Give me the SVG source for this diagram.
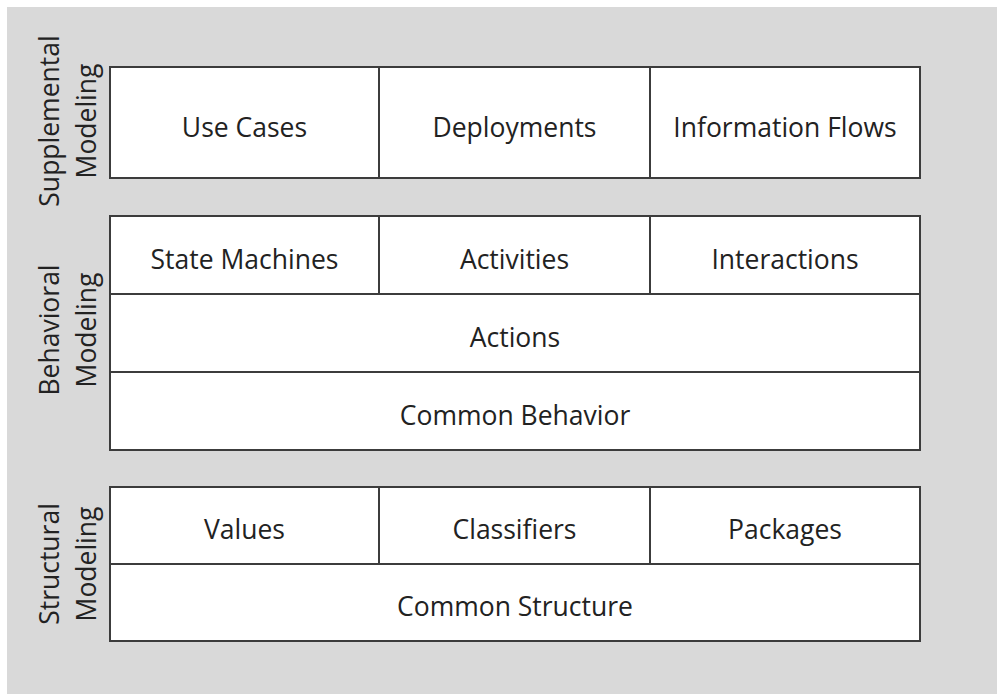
<svg xmlns="http://www.w3.org/2000/svg" width="997" height="694" viewBox="0 0 997 694">
<style>
.box{fill:#fff;stroke:#3c3c3c;stroke-width:2}
.t{font-family:"Open Sans",sans-serif;font-size:26.5px;fill:#222;text-anchor:middle;dominant-baseline:central}
</style>
<rect x="0" y="0" width="997" height="694" fill="#fff"/>
<rect x="7" y="7" width="990" height="687" fill="#d9d9d9"/>
<g id="labels">
<text class="t" transform="translate(49,121) rotate(-90)">Supplemental</text>
<text class="t" transform="translate(86,121) rotate(-90)">Modeling</text>
<text class="t" transform="translate(49,330) rotate(-90)">Behavioral</text>
<text class="t" transform="translate(86,330) rotate(-90)">Modeling</text>
<text class="t" transform="translate(49,564) rotate(-90)">Structural</text>
<text class="t" transform="translate(86,564) rotate(-90)">Modeling</text>
</g>
<g id="use-cases"><rect class="box" x="110" y="67" width="269" height="111"/><text class="t" x="244.5" y="127">Use Cases</text></g>
<g id="deployments"><rect class="box" x="379" y="67" width="271" height="111"/><text class="t" x="514.5" y="127">Deployments</text></g>
<g id="information-flows"><rect class="box" x="650" y="67" width="270" height="111"/><text class="t" x="785" y="127">Information Flows</text></g>
<g id="state-machines"><rect class="box" x="110" y="216" width="269" height="78"/><text class="t" x="244.5" y="259">State Machines</text></g>
<g id="activities"><rect class="box" x="379" y="216" width="271" height="78"/><text class="t" x="514.5" y="259">Activities</text></g>
<g id="interactions"><rect class="box" x="650" y="216" width="270" height="78"/><text class="t" x="785" y="259">Interactions</text></g>
<g id="actions"><rect class="box" x="110" y="294" width="810" height="78"/><text class="t" x="515" y="337">Actions</text></g>
<g id="common-behavior"><rect class="box" x="110" y="372" width="810" height="78"/><text class="t" x="515" y="415">Common Behavior</text></g>
<g id="values"><rect class="box" x="110" y="487" width="269" height="77"/><text class="t" x="244.5" y="529">Values</text></g>
<g id="classifiers"><rect class="box" x="379" y="487" width="271" height="77"/><text class="t" x="514.5" y="529">Classifiers</text></g>
<g id="packages"><rect class="box" x="650" y="487" width="270" height="77"/><text class="t" x="785" y="529">Packages</text></g>
<g id="common-structure"><rect class="box" x="110" y="564" width="810" height="77"/><text class="t" x="515" y="606">Common Structure</text></g>
<g id="connectors"></g>
</svg>
